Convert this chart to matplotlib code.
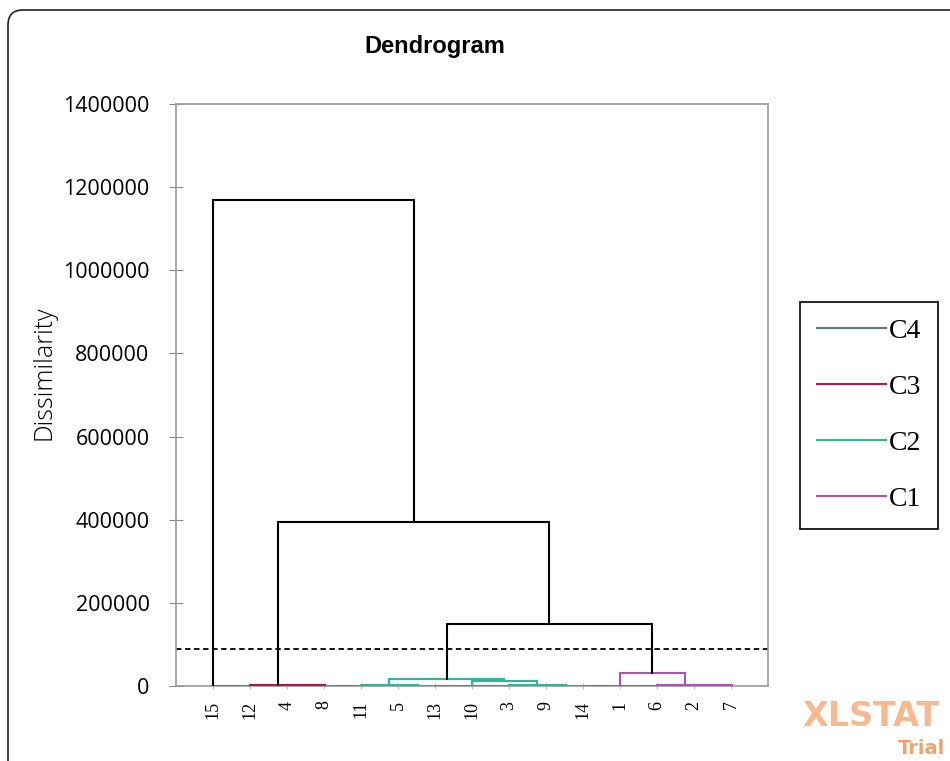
import matplotlib.pyplot as plt
from matplotlib.patches import FancyBboxPatch
from matplotlib.lines import Line2D

# leaf order along the x axis
leaves = [15, 12, 4, 8, 11, 5, 13, 10, 3, 9, 14, 1, 6, 2, 7]

# merges: (left, right, height, cluster) - ints are leaf labels, "mN" refers to merge N
merge_left = [4, 12, 5, 11, 9, 3, 10, "m3", 2, 6, 1, "m7", "m1", 15]
merge_right = [8, "m0", 13, "m2", 14, "m4", "m5", "m6", 7, "m8", "m9", "m10", "m11", "m12"]
merge_height = [1500, 2500, 1000, 2000, 1000, 2000, 11000, 17000, 1500, 1500, 31000,
                150000, 394000, 1170000]
merge_cluster = ["C3", "C3", "C2", "C2", "C2", "C2", "C2", "C2", "C1", "C1", "C1",
                 None, None, None]

cut_level = 89000
y_ticks = [0, 200000, 400000, 600000, 800000, 1000000, 1200000, 1400000]

legend_names = ["C4", "C3", "C2", "C1"]
cluster_colors = {"C4": "#5a7591", "C3": "#b0184e", "C2": "#2fb59a", "C1": "#b04fb4"}

fig = plt.figure(figsize=(9.5, 7.61), dpi=100)
ax = fig.add_axes([176 / 950, 75 / 761, 592 / 950, 582 / 761])

# x position of each leaf
pos = {leaf: i + 1 for i, leaf in enumerate(leaves)}


def node_xy(node, merges_xy):
    if isinstance(node, str):
        return merges_xy[int(node[1:])]
    return pos[node], 0


# baseline along the leaves
ax.hlines(0, pos[leaves[0]], pos[leaves[-1]], color="black", lw=1.5, zorder=2)

merges_xy = []
for left, right, h, cl in zip(merge_left, merge_right, merge_height, merge_cluster):
    xl, yl = node_xy(left, merges_xy)
    xr, yr = node_xy(right, merges_xy)
    color = cluster_colors[cl] if cl else "black"
    lw = 2.2 if h < 5000 else 1.5
    ax.plot([xl, xl, xr, xr], [yl, h, h, yr], color=color, lw=lw, zorder=3,
            solid_joinstyle="miter")
    merges_xy.append(((xl + xr) / 2, h))

# truncation level
ax.axhline(cut_level, color="black", lw=1.3, linestyle=(0, (3, 2)), zorder=2)

ax.set_xlim(0, len(leaves) + 1)
ax.set_ylim(0, 1400000)
ax.set_yticks(y_ticks)
ax.set_yticklabels([str(t) for t in y_ticks], fontsize=15.5, family="Open Sans")
ax.set_xticks([pos[l] for l in leaves])
ax.set_xticklabels([str(l) for l in leaves], rotation=90, fontsize=13,
                   family="Liberation Serif")
ax.tick_params(axis="y", direction="inout", length=10, color="#888888", pad=14)
ax.tick_params(axis="x", direction="inout", length=5, color="#bbbbbb", pad=8)
for s in ax.spines.values():
    s.set_color("#999999")
    s.set_linewidth(1.2)

fig.text(44 / 950, 1 - 373 / 761, "Dissimilarity", rotation=90, ha="center", va="center",
         fontsize=18, family="Open Sans", fontweight="light")

fig.text(435 / 950, 1 - 47 / 761, "Dendrogram", ha="center", va="center",
         fontsize=17, fontweight="bold", family="Liberation Sans")

# legend
handles = [Line2D([], [], color=cluster_colors[n], lw=1.5) for n in legend_names]
leg = fig.legend(handles, legend_names, loc="upper left",
                 bbox_to_anchor=(800 / 950, 1 - 302 / 761), borderaxespad=0,
                 prop={"family": "Liberation Serif", "size": 20},
                 handlelength=2.5, handletextpad=0.1, labelspacing=1.1,
                 borderpad=0.6, fancybox=False, framealpha=1, edgecolor="black")
leg.get_frame().set_linewidth(1.2)

# outer rounded border
border = FancyBboxPatch((0.08, -0.5), 10, 8.01, boxstyle="round,pad=0,rounding_size=0.15",
                        transform=fig.dpi_scale_trans, fill=False, edgecolor="#222222",
                        lw=1.2)
fig.patches.append(border)

# watermark
fig.text(802 / 950, 1 - 716 / 761, "XLSTAT", color="#f7b98f", fontsize=24,
         fontweight="bold", family="DejaVu Sans", ha="left", va="center")
fig.text(898 / 950, 1 - 748 / 761, "Trial", color="#eea26c", fontsize=14,
         fontweight="bold", family="DejaVu Sans", ha="left", va="center")

fig.savefig("out.png", dpi=100)
